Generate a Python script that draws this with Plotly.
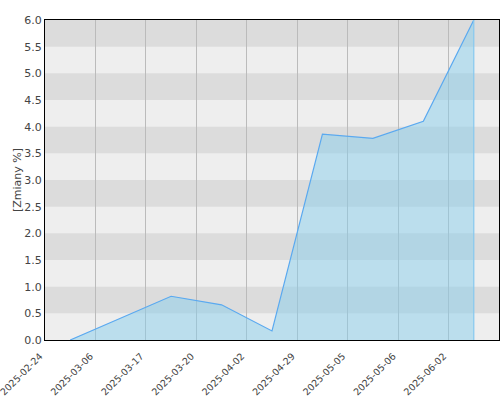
import plotly.graph_objects as go

dates = ["2025-02-24", "2025-03-06", "2025-03-17", "2025-03-20", "2025-04-02",
         "2025-04-29", "2025-05-05", "2025-05-06", "2025-06-02"]
values = [0.0, 0.41, 0.82, 0.66, 0.17, 3.86, 3.78, 4.10, 6.0]
y_ticks = [0.0, 0.5, 1.0, 1.5, 2.0, 2.5, 3.0, 3.5, 4.0, 4.5, 5.0, 5.5, 6.0]
y_title = "[Zmiany %]"

xpos = [i + 0.5 for i in range(len(values))]

fig = go.Figure()
fig.add_trace(go.Scatter(
    x=xpos, y=values, mode="lines", fill="tozeroy",
    line=dict(color="#5aa9f0", width=1.2),
    fillcolor="rgba(135,206,235,0.5)",
    hoverinfo="skip", showlegend=False,
))

shapes = []
for k in range(len(y_ticks) - 1):
    if k % 2 == 1:
        shapes.append(dict(type="rect", xref="paper", yref="y", x0=0, x1=1,
                           y0=y_ticks[k], y1=y_ticks[k + 1],
                           fillcolor="#dcdcdc", line=dict(width=0), layer="below"))
shapes.append(dict(type="line", xref="x", yref="y", x0=xpos[-1], x1=xpos[-1],
                   y0=0, y1=values[-1], line=dict(color="#86c8f0", width=1.2)))

fig.update_layout(
    width=500, height=400,
    margin=dict(l=45, r=1, t=20, b=60, autoexpand=False),
    paper_bgcolor="white", plot_bgcolor="#eeeeee",
    font=dict(family="DejaVu Sans", size=11, color="#444"),
    shapes=shapes,
    xaxis=dict(range=[0, len(values)], tickvals=list(range(len(dates))), ticktext=dates,
               tickangle=-45, tickfont=dict(size=9.5, color="#444"),
               ticklabeloverflow="allow", ticklabelstandoff=6, ticklabelshift=-5,
               showgrid=True, gridcolor="#bbbbbb", gridwidth=1,
               showline=True, linecolor="black", linewidth=1, mirror=True,
               ticks="", zeroline=False, automargin=False),
    yaxis=dict(range=[0, 6], tickvals=y_ticks, ticktext=[f"{v:.1f}" for v in y_ticks],
               tickfont=dict(size=11, color="#444"),
               showgrid=False, zeroline=False, automargin=False,
               showline=True, linecolor="black", linewidth=1, mirror=True,
               ticks="", title=dict(text=y_title, font=dict(size=11, color="#444"), standoff=0)),
)

fig.write_html("out.html", config={"displayModeBar": False},
               post_script="document.body.style.margin='0';document.body.style.overflow='hidden';")
